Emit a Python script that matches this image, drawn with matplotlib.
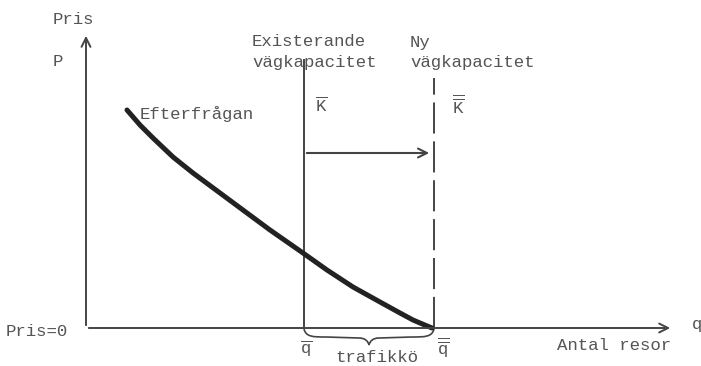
import numpy as np
import matplotlib.pyplot as plt
from matplotlib.path import Path
from matplotlib.patches import PathPatch

# Diagram units: q = traffic volume, p = price (origin at the axis corner)
demand_q = [41, 54, 67, 87, 107, 134, 161, 184, 217, 241, 267, 294, 314, 327, 334, 346]
demand_p = [218, 203, 190, 171, 155, 135, 115, 98, 75, 58, 41, 26, 15, 8, 5, 0]

k_bar = 218        # existing road capacity
k_bar2 = 348       # new road capacity
k_top = 268
k2_top = 250
shift_p = 175      # level of the capacity-shift arrow
q_max = 587
p_max = 295

txt = "#555555"
ln = "#444444"
mono = ["Liberation Mono", "DejaVu Sans Mono"]
plt.rcParams["mathtext.fontset"] = "custom"
plt.rcParams["mathtext.rm"] = "Liberation Mono"

fig = plt.figure(figsize=(7.01, 3.66), dpi=100)
ax = fig.add_axes([0, 0, 1, 1])
ax.set_xlim(-86, 615)
ax.set_ylim(-38, 328)
ax.axis("off")

# axes with arrows
ax.annotate("", xy=(0, p_max), xytext=(0, 0),
            arrowprops=dict(arrowstyle="->", color=ln, lw=1.4, mutation_scale=16))
ax.annotate("", xy=(q_max, 0), xytext=(0, 0),
            arrowprops=dict(arrowstyle="->", color=ln, lw=1.4, mutation_scale=16))

# capacity lines
ax.plot([k_bar, k_bar], [0, k_top], color=ln, lw=1.4)
ax.plot([k_bar2, k_bar2], [0, k2_top], color=ln, lw=1.4, linestyle=(0, (16, 4)))
ax.annotate("", xy=(k_bar2 - 2, shift_p), xytext=(k_bar, shift_p),
            arrowprops=dict(arrowstyle="->", color=ln, lw=1.5, mutation_scale=16))

# demand curve
ax.plot(demand_q, demand_p, color="#222222", lw=3.6, solid_capstyle="round",
        solid_joinstyle="round")

# brace under the queue
mid = (k_bar + k_bar2) / 2
verts = [(k_bar, -1), (k_bar + 2, -9), (k_bar + 9, -9), (k_bar + 22, -9),
         (mid - 10, -10),
         (mid - 4, -10), (mid - 1, -13), (mid, -17),
         (mid + 1, -13), (mid + 4, -10), (mid + 10, -10),
         (k_bar2 - 22, -9),
         (k_bar2 - 9, -9), (k_bar2 - 2, -9), (k_bar2, -1)]
codes = [Path.MOVETO, Path.CURVE4, Path.CURVE4, Path.CURVE4,
         Path.LINETO,
         Path.CURVE4, Path.CURVE4, Path.CURVE4,
         Path.CURVE4, Path.CURVE4, Path.CURVE4,
         Path.LINETO,
         Path.CURVE4, Path.CURVE4, Path.CURVE4]
ax.add_patch(PathPatch(Path(verts, codes), fill=False, edgecolor=ln, lw=1.2))

fs = 12.5
def label(x, y, s, **kw):
    ax.text(x, y, s, family=mono, fontsize=fs, color=txt, va="center", ha="left", **kw)

label(-33, 309, "Pris")
label(-33, 266, "P")
label(-80, -4, "Pris=0")
label(166, 286, "Existerande")
label(166, 266, "vägkapacitet")
label(324, 286, "Ny")
label(324, 266, "vägkapacitet")
label(229, 223, r"$\overline{\mathrm{K}}$")
label(366, 223, r"$\overline{\overline{\mathrm{K}}}$")
label(54, 214, "Efterfrågan")
label(214, -20, r"$\overline{\mathrm{q}}$")
label(351, -19, r"$\overline{\overline{\mathrm{q}}}$")
label(249, -29, "trafikkö")
label(471, -17, "Antal resor")
label(606, 4, "q")

fig.savefig("out.png", dpi=100)
